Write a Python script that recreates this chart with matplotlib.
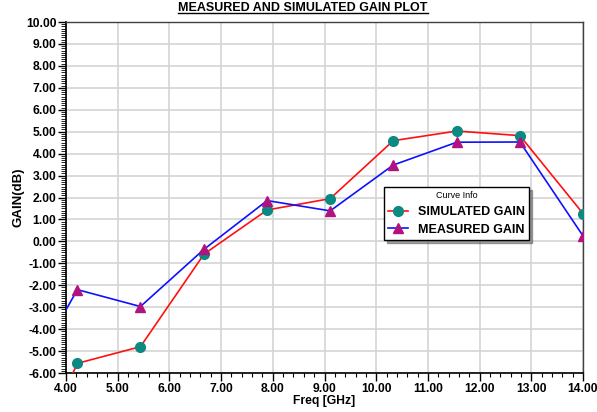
import matplotlib
matplotlib.use("Agg")
import matplotlib.pyplot as plt
from matplotlib.ticker import MultipleLocator, FormatStrFormatter
from matplotlib.lines import Line2D

plt.rcParams['font.family'] = ['Liberation Sans', 'DejaVu Sans']

freq = [3.00, 4.22, 5.44, 6.67, 7.89, 9.11, 10.33, 11.56, 12.78, 14.00]
simulated = [-11.8, -5.56, -4.80, -0.58, 1.43, 1.95, 4.59, 5.03, 4.82, 1.27]
measured = [-7.3, -2.20, -2.97, -0.36, 1.86, 1.39, 3.48, 4.52, 4.53, 0.25]

title = "MEASURED AND SIMULATED GAIN PLOT"
xlabel = "Freq [GHz]"
ylabel = "GAIN(dB)"
legend_title = "Curve Info"
names = ["SIMULATED GAIN", "MEASURED GAIN"]

W, H = 597, 412
fig = plt.figure(figsize=(W / 100, H / 100), dpi=100)
ax = fig.add_axes([66 / W, 1 - 373 / H, (583 - 66) / W, (373 - 22) / H])

ax.plot(freq, simulated, color='#ff1010', lw=1.2, marker='o', ms=7,
        mfc='#0a8a82', mec='#0a8a82', label=names[0], zorder=3)
ax.plot(freq, measured, color='#1010ff', lw=1.2, marker='^', ms=7,
        mfc='#b0137f', mec='#b0137f', label=names[1], zorder=3)

ax.set_xlim(4, 14)
ax.set_ylim(-6, 10)
ax.xaxis.set_major_locator(MultipleLocator(1))
ax.xaxis.set_minor_locator(MultipleLocator(0.2))
ax.yaxis.set_major_locator(MultipleLocator(1))
ax.yaxis.set_minor_locator(MultipleLocator(0.1))
ax.xaxis.set_major_formatter(FormatStrFormatter('%.2f'))
ax.yaxis.set_major_formatter(FormatStrFormatter('%.2f'))

ax.grid(True, which='major', color='#d4d4d4', lw=1.2)
ax.set_axisbelow(True)

ax.tick_params(axis='both', which='major', direction='out', length=6, width=1,
               labelsize=8.7, pad=1)
ax.tick_params(axis='x', which='minor', direction='out', length=3, width=0.8)
ax.tick_params(axis='y', which='minor', direction='out', length=3.5, width=0.6)
for lab in ax.get_xticklabels() + ax.get_yticklabels():
    lab.set_fontweight('bold')

for s in ['left', 'bottom']:
    ax.spines[s].set_color('black')
    ax.spines[s].set_linewidth(1.2)
for s in ['top', 'right']:
    ax.spines[s].set_color('#404040')
    ax.spines[s].set_linewidth(1.0)

ax.set_xlabel(xlabel, fontsize=8.7, fontweight='bold', labelpad=0)
ax.set_ylabel(ylabel, fontsize=9.5, fontweight='bold', labelpad=1)

t = fig.text(303 / W, 1 - 8 / H, title,
             ha='center', va='center', fontsize=9, fontweight='bold')

leg = ax.legend(loc='upper left', bbox_to_anchor=(0.615, 0.53), title=legend_title,
                fancybox=False, shadow=True, edgecolor='black', framealpha=1,
                prop={'weight': 'bold', 'size': 9}, title_fontsize=6.5,
                borderpad=0.35, labelspacing=0.45, handlelength=1.55, handletextpad=0.8,
                borderaxespad=0)
leg.get_frame().set_linewidth(1.0)

fig.canvas.draw()
r = fig.canvas.get_renderer()
bb = t.get_window_extent(r)
inv = fig.transFigure.inverted()
(x0, y0), (x1, y1) = inv.transform([[bb.x0, bb.y0], [bb.x1, bb.y1]])
fig.add_artist(Line2D([x0, x1], [y0 + 0.002, y0 + 0.002], color='black', lw=1,
                      transform=fig.transFigure))

fig.savefig('out.png', dpi=100)
